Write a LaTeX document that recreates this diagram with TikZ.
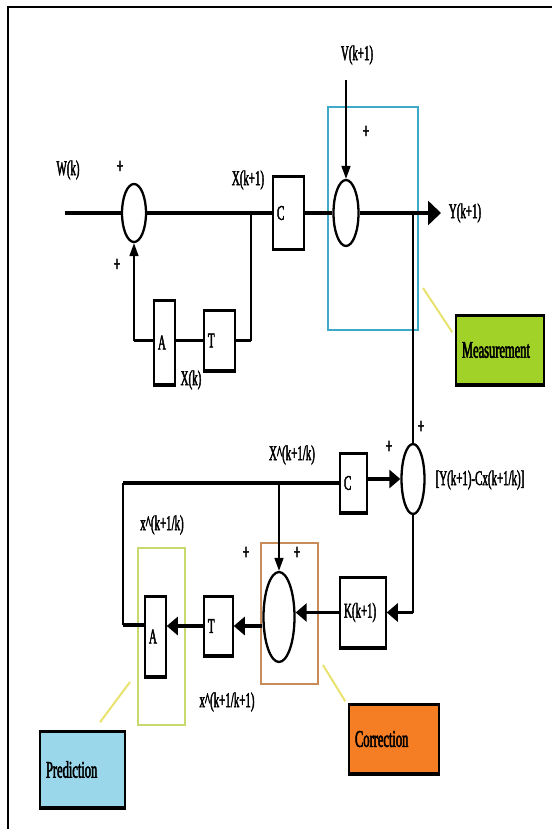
\documentclass[tikz,border=0pt]{standalone}
\usepackage{fontspec}
\setmainfont{Liberation Serif}[FakeStretch=0.52,FakeBold=2]
\usetikzlibrary{arrows.meta,shapes.geometric}
\definecolor{regblue}{RGB}{62,170,200}
\definecolor{regorange}{RGB}{200,140,90}
\definecolor{reggreen}{RGB}{200,218,110}
\definecolor{fillmeas}{RGB}{160,210,40}
\definecolor{fillcorr}{RGB}{245,125,35}
\definecolor{fillpred}{RGB}{155,215,235}
\definecolor{pointer}{RGB}{232,226,110}
\newcommand\mylbl{\fontsize{21}{23}\selectfont}
\newcommand\mycal{\fontsize{24}{26}\selectfont}
\newcommand\myplus{\fontsize{22}{24}\selectfont}
\tikzset{
  thk/.style={line width=3.5pt},
  thn/.style={line width=1.6pt},
  blk/.style={draw, line width=1.5pt, fill=white, inner xsep=4pt, inner ysep=0pt, align=left, font=\mylbl},
  sumj/.style={draw, ellipse, line width=2.3pt, inner sep=0pt},
  harr/.style={-{Triangle[length=11pt,width=18pt]}},
  varr/.style={-{Triangle[length=13pt,width=9pt]}},
  lbl/.style={font=\mylbl, inner sep=0pt},
  pls/.style={font=\myplus, inner sep=0pt},
  region/.style={line width=2.5pt},
  callout/.style={draw, line width=1.5pt, inner xsep=6pt, inner ysep=0pt, align=left, font=\mycal},
  pointerline/.style={draw=pointer, line width=2pt},
}
\begin{document}
\begin{tikzpicture}[x=1pt,y=-1pt]
\useasboundingbox (0,0) rectangle (552,829);
% frame
\draw[line width=2.5pt] (552,7) -- (8,7) -- (8,829);

% region boxes
\draw[region, draw=regblue] (328,107) rectangle (418,330);
\draw[region, draw=regorange] (261,543) rectangle (318,684);
\draw[region, draw=reggreen] (138,548) rectangle (185,725);

% blocks
\node[blk, text width=23pt, minimum height=71pt] (c1) at (288.5,213) {C};
\node[blk, text width=13pt, minimum height=83pt] (a1) at (164.5,342.5) {A};
\node[blk, text width=23pt, minimum height=59pt] (t1) at (219.5,340.5) {T};
\node[blk, text width=19pt, minimum height=58pt] (c2) at (353.5,483) {C};
\node[blk, text width=38pt, minimum height=69pt] (k1) at (363,612.5) {K(k+1)};
\node[blk, text width=21pt, minimum height=58pt] (t2) at (218.5,626) {T};
\node[blk, text width=13pt, minimum height=79pt] (a2) at (155.5,636.5) {A};

% summing junctions
\node[sumj, minimum width=24pt, minimum height=58pt] (s1) at (134,213) {};
\node[sumj, minimum width=25pt, minimum height=66pt] (s2) at (346,213) {};
\node[sumj, minimum width=23pt, minimum height=70pt] (s3) at (413,479) {};
\node[sumj, minimum width=31pt, minimum height=90pt] (s4) at (279,617) {};

% callouts
\node[callout, fill=fillmeas, minimum width=88pt, minimum height=68pt, text width=76pt] (meas) at (500,350) {Measurement};
\node[callout, fill=fillcorr, minimum width=90pt, minimum height=68pt, text width=78pt] (corr) at (394,739) {Correction};
\node[callout, fill=fillpred, minimum width=85pt, minimum height=75pt, text width=73pt] (pred) at (82.5,769.5) {Prediction};

\foreach \b in {c1,a1,t1,c2,k1,t2,a2,meas,corr,pred}
  \draw[line width=3.5pt] (\b.north west) -- (\b.north east) (\b.south west) -- (\b.south east);

% coordinates
\coordinate (win) at (65,213);
\coordinate (yout) at (441,213);
\coordinate (vin) at (346,80);
\coordinate (b1) at (251,213);
\coordinate (b2) at (413,213);
\coordinate (b3) at (279,483);
\coordinate (l1) at (123,483);
\coordinate (l2) at (123,625);

% top connectors
\draw[thk] (win) -- (s1.west);
\draw[thk] (s1.east) -- (c1.west);
\draw[thk] (c1.east) -- (s2.west);
\draw[thk, -{Triangle[length=13pt,width=24pt]}] (s2.east) -- (yout);
\draw[thn, varr] (vin) -- (s2.north);
\draw[thn] (b1) -- (b1 |- t1.east);
\draw[thk] (t1.east) -- (b1 |- t1.east);
\draw[thk] (t1.west) -- (a1.east |- t1.west);
\draw[thk] (a1.west |- t1.west) -- (s1 |- t1.west);
\draw[thn, varr] (s1 |- t1.west) -- (s1.south);
\draw[thn] (b2) -- (s3.north);

% bottom connectors
\draw[thk, harr] (c2.east |- s3.west) -- (s3.west);
\draw[thk] (c2.west) -- (l1);
\draw[thn] (l1) -- (l2);
\draw[thk] (l2) -- (l2 -| a2.west);
\draw[thn, varr] (b3) -- (s4.north);
\draw[thn] (s3.south) -- (s3.south |- k1.east);
\draw[thk, harr] (s3.south |- k1.east) -- (k1.east);
\draw[thk, harr] (k1.west) -- (k1.west -| s4.east);
\draw[thk, harr] (t2.east -| s4.west) -- (t2.east);
\draw[thk, harr] (t2.west) -- (t2.west -| a2.east);

% pointer lines
\coordinate (pm) at (423,288);
\coordinate (pc) at (323,665);
\coordinate (pp) at (130,682);
\draw[pointerline] (pm) -- ([xshift=-3pt,yshift=-17pt]meas.north west);
\draw[pointerline] (pc) -- ([xshift=-3pt,yshift=3pt]corr.north west);
\draw[pointerline] (pp) -- ([xshift=17.5pt,yshift=9pt]pred.north);

% labels
\node[lbl] (lw) at (68,170) {W(k)};
\node[lbl] (lx1) at (248,180) {X(k+1)};
\node[lbl] (lv) at (357,55) {V(k+1)};
\node[lbl] (ly) at (465,213) {Y(k+1)};
\node[lbl] (lxk) at (191,380) {X(k)};
\node[lbl] (lxh) at (292,455) {X\textasciicircum(k+1/k)};
\node[lbl] (lxp) at (162,525) {x\textasciicircum(k+1/k)};
\node[lbl] (lxc) at (227,702) {x\textasciicircum(k+1/k+1)};
\node[lbl] (lerr) at (480,480) {[Y(k+1)-Cx(k+1/k)]};

% plus signs
\node[pls] (p1) at (120,167) {+};
\node[pls] (p2) at (117,265) {+};
\node[pls] (p3) at (366,132) {+};
\node[pls] (p4) at (421,427) {+};
\node[pls] (p5) at (389,447) {+};
\node[pls] (p6) at (246,553) {+};
\node[pls] (p7) at (297,553) {+};
\end{tikzpicture}
\end{document}
